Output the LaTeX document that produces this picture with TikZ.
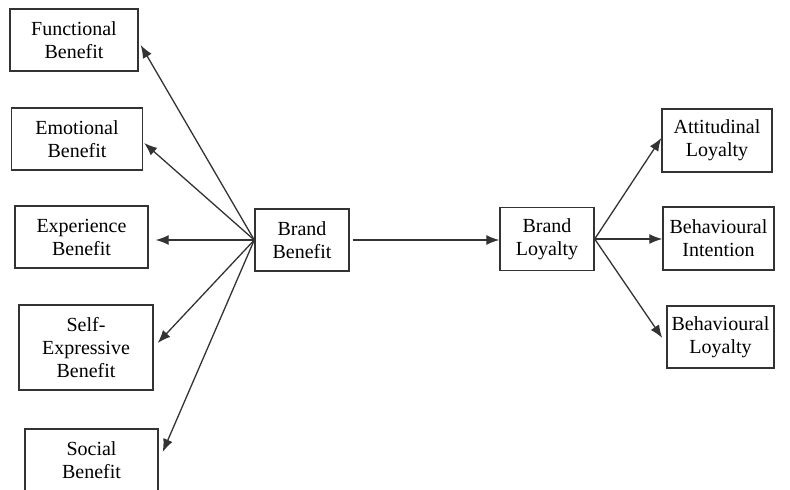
\documentclass[tikz,border=0pt]{standalone}
\usepackage{fontspec}
\setmainfont{Liberation Serif}
\usetikzlibrary{arrows.meta}
\usetikzlibrary{positioning}
\tikzset{
	>={Latex[length=13pt,width=10pt]},
	factorbox/.style={
		rectangle,
		draw=black!80, line width=1.4pt,
		align=center,
		inner sep=0pt,
		font=\fontsize{20}{23}\selectfont},
	link/.style={draw=black!80, line width=1.3pt, ->},
}
\begin{document}
\begin{tikzpicture}[x=1pt,y=-1pt]
	\useasboundingbox (0,0) rectangle (790,490);
	% benefits
	\node[factorbox, minimum width=128pt, minimum height=62pt] (func) at (74,40)    {Functional\\Benefit};
	\node[factorbox, minimum width=131pt, minimum height=62pt] (emo)  at (77,139)   {Emotional\\Benefit};
	\node[factorbox, minimum width=133pt, minimum height=62pt] (expr) at (81.5,237) {Experience\\Benefit};
	\node[factorbox, minimum width=134pt, minimum height=85pt] (self) at (86,347.5) {Self-\\Expressive\\Benefit};
	\node[factorbox, minimum width=133pt, minimum height=62pt] (soc)  at (91.5,460) {Social\\Benefit};
	% centre
	\node[factorbox, minimum width=94pt, minimum height=62pt] (bben) at (302,240) {Brand\\Benefit};
	\node[factorbox, minimum width=94pt, minimum height=63pt] (bloy) at (547,239) {Brand\\Loyalty};
	% loyalty
	\node[factorbox, minimum width=110pt, minimum height=63pt] (att)  at (717,140.5) {Attitudinal\\Loyalty};
	\node[factorbox, minimum width=111pt, minimum height=63pt] (bint) at (718.5,238.5) {Behavioural\\Intention};
	\node[factorbox, minimum width=107pt, minimum height=62pt] (bbeh) at (720.5,337) {Behavioural\\Loyalty};
	
	\draw[link] (bben.west) -- ([xshift=2pt,yshift=-5pt]func.east);
	\draw[link] (bben.west) -- ([xshift=1pt,yshift=-4pt]emo.east);
	\draw[link] (bben.west) -- ([xshift=7pt,yshift=-3pt]expr.east);
	\draw[link] (bben.west) -- ([xshift=4pt,yshift=4.5pt]self.east);
	\draw[link] (bben.west) -- ([xshift=4pt,yshift=8pt]soc.east);
	\draw[link] ([xshift=3pt]bben.east) -- (bben.east -| bloy.west);
	\draw[link] (bloy.east) -- ([yshift=2.5pt]att.west);
	\draw[link] (bloy.east) -- (bloy.east -| bint.west);
	\draw[link] (bloy.east) -- ([xshift=-4pt,yshift=-1pt]bbeh.west);
\end{tikzpicture}
\end{document}
